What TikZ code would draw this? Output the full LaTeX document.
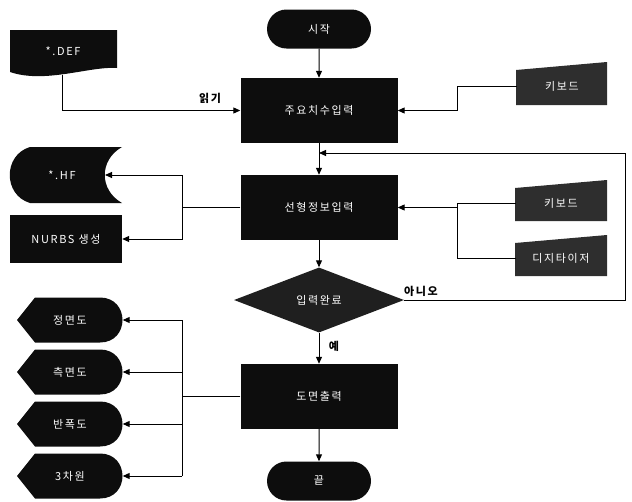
\documentclass[tikz,border=0pt]{standalone}
\usepackage{fontspec}
\setmainfont[LetterSpace=15]{Noto Sans CJK KR}
\usetikzlibrary{arrows.meta,shapes.misc,shapes.geometric}
\begin{document}
\begin{tikzpicture}[x=1pt,y=-1pt,
  base/.style={text=white,font=\fontsize{11}{13}\selectfont,inner sep=0pt},
  dark/.style={fill=black!95},
  grayfill/.style={fill=black!82},
  proc/.style={base,dark,rectangle,minimum width=157pt,minimum height=65pt},
  term/.style={base,dark,rounded rectangle,minimum width=104pt,minimum height=39pt},
  dec/.style={base,fill=black!88,diamond,aspect=2.6,minimum width=170pt,minimum height=65pt},
  lbl/.style={base,minimum width=90pt,minimum height=36pt},
  note/.style={text=black,font=\fontsize{11}{13}\selectfont\bfseries,inner sep=1pt},
  conn/.style={line width=1pt},
  arr/.style={conn,-{Triangle[length=7pt,width=6pt]}}]
\useasboundingbox (0,0) rectangle (632,501);

% --- custom shapes (fills) ---
% *.DEF document
\fill[dark] (10,30) -- (117,30) -- (117,68) .. controls (90,66) and (45,84) .. (10,72) -- cycle;
% keyboards / digitizer (manual input)
\fill[grayfill] (516,70) -- (607,62) -- (607,105) -- (516,105) -- cycle;
\fill[grayfill] (515,188) -- (607,180) -- (607,221) -- (515,221) -- cycle;
\fill[grayfill] (515,243) -- (607,235) -- (607,276) -- (515,276) -- cycle;
% *.HF stored data
\fill[dark] (30,147) -- (122,147) .. controls (99,160) and (99,190) .. (122,203)
  -- (30,203) .. controls (3,195) and (3,155) .. (30,147) -- cycle;
% NURBS
\fill[dark] (10,215) rectangle (122,263);
% displays
\foreach \c in {320,372,424,476}{
  \fill[dark] (17,\c) -- (35,\c-22.5) -- (100,\c-22.5)
    .. controls (130,\c-22.5) and (130,\c+22.5) .. (100,\c+22.5)
    -- (35,\c+22.5) -- cycle;
}

% --- nodes ---
\node[term] (s) at (319,29) {시작};
\node[proc] (b1) at (319,110.5) {주요치수입력};
\node[proc] (b2) at (319,207.5) {선형정보입력};
\node[dec] (d) at (319,300) {입력완료};
\node[proc] (b3) at (319,396.5) {도면출력};
\node[term] (e) at (319,481) {끝};

\node[lbl,minimum width=107pt] (def) at (63,51) {*.DEF};
\node[lbl] (k1) at (562,86) {키보드};
\node[lbl] (k2) at (561,203) {키보드};
\node[lbl] (dg) at (561,258) {디지타이저};
\node[lbl,minimum width=100pt] (hf) at (62,175) {*.HF};
\node[lbl,minimum width=112pt,minimum height=48pt] (nu) at (66,239) {NURBS 생성};
\node[lbl,minimum width=105pt,minimum height=45pt] (o1) at (70,320) {정면도};
\node[lbl,minimum width=105pt,minimum height=45pt] (o2) at (70,372) {측면도};
\node[lbl,minimum width=105pt,minimum height=45pt] (o3) at (70,424) {반폭도};
\node[lbl,minimum width=105pt,minimum height=45pt] (o4) at (70,476) {3차원};

\node[note] (rd) at (210,98) {읽기};
\node[note] (no) at (421,291) {아니오};
\node[note] (yes) at (334,346) {예};

% --- coordinates ---
\coordinate (defb) at (62,75);
\coordinate (lp) at (625,153);
\coordinate (mg) at (319,153);
\coordinate (j1) at (457,86);
\coordinate (j2) at (457,207.5);
\coordinate (j3) at (182,207.5);
\coordinate (hfr) at (105,175);
\coordinate (j4) at (182,396.5);

% --- connectors ---
\draw[arr] (s) -- (b1);
\draw[arr] (b1) -- (b2);
\draw[arr] (b2) -- (d);
\draw[arr] (d) -- (b3);
\draw[arr] (b3) -- (e);
\draw[arr] (d.east) -| (lp) -- (mg);
\draw[arr] (defb) |- (b1.west);
\draw[arr] (k1.west) -- (j1) |- (b1.east);
\draw[conn] (k2.west) -- (k2.west -| j2) -- (dg.west -| j2) -- (dg.west);
\draw[arr] (j2) -- (b2.east);
\draw[conn] (b2.west) -- (j3);
\draw[arr] (j3) |- (hfr);
\draw[arr] (j3) |- (nu.east);
\draw[conn] (b3.west) -- (j4);
\draw[conn] (j4 |- o1.east) -- (j4 |- o4.east);
\draw[arr] (j4 |- o1.east) -- (o1.east);
\draw[arr] (j4 |- o2.east) -- (o2.east);
\draw[arr] (j4 |- o3.east) -- (o3.east);
\draw[arr] (j4 |- o4.east) -- (o4.east);
\end{tikzpicture}
\end{document}
